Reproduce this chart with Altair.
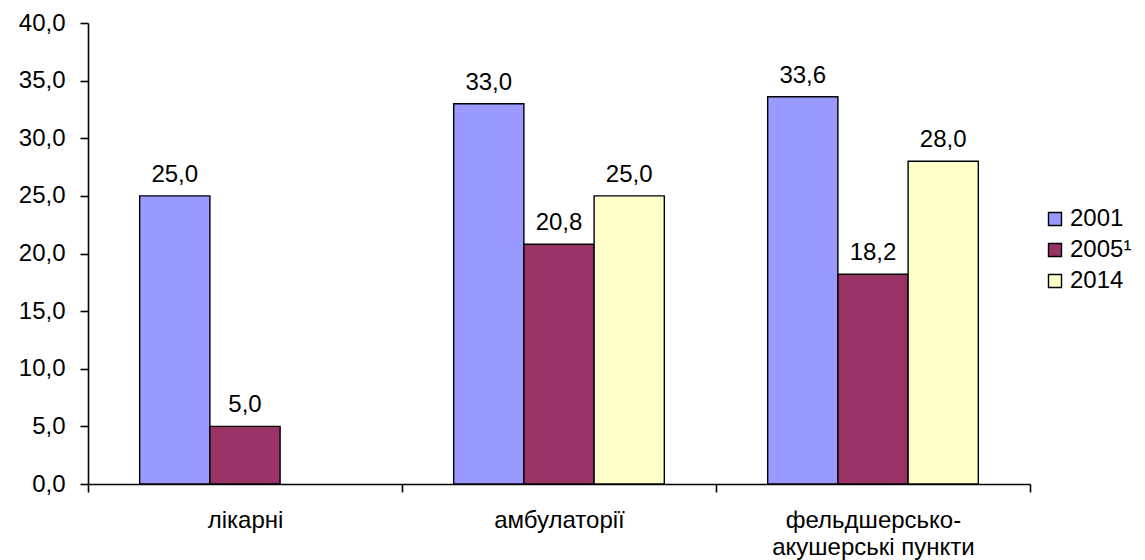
import altair as alt
import pandas as pd

categories = ["лікарні", "амбулаторії", "фельдшерсько-акушерські пункти"]
series = ["2001", "2005¹", "2014"]
v2001 = [25.0, 33.0, 33.6]
v2005 = [5.0, 20.8, 18.2]
v2014 = [None, 25.0, 28.0]
colors = ["#9999FF", "#993366", "#FFFFCC"]
y_ticks = [0, 5, 10, 15, 20, 25, 30, 35, 40]

rows = []
for s, vals in zip(series, [v2001, v2005, v2014]):
    for c, v in zip(categories, vals):
        if v is not None:
            rows.append({"category": c, "series": s, "value": v})
df = pd.DataFrame(rows)

FONT = "Liberation Sans"
FS = 24

x_enc = alt.X("category:N", scale=alt.Scale(domain=categories, paddingInner=0, paddingOuter=0),
              axis=alt.Axis(title=None, labelAngle=0, tickBand="extent", tickSize=8, tickWidth=1.6,
                            domainWidth=1.6, labelPadding=16, labelFontSize=FS, labelFont=FONT,
                            labelColor="black", domainColor="black", tickColor="black",
                            labelLineHeight=27, labelLimit=0,
                            labelExpr="datum.value == 'фельдшерсько-акушерські пункти' ? ['фельдшерсько-', 'акушерські пункти'] : datum.value"))
xoff = alt.XOffset("series:N", scale=alt.Scale(domain=series, paddingInner=0, paddingOuter=0.736))
y_enc = alt.Y("value:Q", scale=alt.Scale(domain=[0, 40], nice=False),
              axis=alt.Axis(title=None, values=y_ticks, tickSize=8, tickWidth=1.6, domainWidth=1.6,
                            labelPadding=15, grid=False,
                            labelFontSize=FS, labelFont=FONT, labelColor="black",
                            domainColor="black", tickColor="black",
                            labelExpr="replace(format(datum.value, '.1f'), '.', ',')"))

bars = alt.Chart(df).mark_bar(stroke="black", strokeWidth=1.4).encode(
    x=x_enc, xOffset=xoff, y=y_enc,
    color=alt.Color("series:N", scale=alt.Scale(domain=series, range=colors),
                    legend=alt.Legend(title=None, orient="none", legendX=955, legendY=184,
                                      symbolType="square", symbolSize=169, symbolStrokeColor="black",
                                      symbolStrokeWidth=1.4, symbolOpacity=1, labelFontSize=FS,
                                      labelFont=FONT, labelColor="black", labelOffset=3,
                                      labelLimit=0, rowPadding=7, padding=0)),
)

labels = alt.Chart(df).transform_calculate(
    lbl="replace(format(datum.value, '.1f'), '.', ',')"
).mark_text(fontSize=FS, font=FONT, color="black", dy=-14, baseline="alphabetic").encode(
    x=alt.X("category:N", scale=alt.Scale(domain=categories, paddingInner=0, paddingOuter=0)),
    xOffset=xoff,
    y=alt.Y("value:Q", scale=alt.Scale(domain=[0, 40], nice=False)),
    text="lbl:N",
)

chart = alt.layer(bars, labels).properties(
    width=942, height=461,
    autosize=alt.AutoSizeParams(type="none"),
    padding={"left": 80, "top": 15, "right": 107, "bottom": 77},
).configure_view(stroke=None).configure_axis(grid=False)

chart.save("out.html", embed_options={"renderer": "svg", "actions": False})
